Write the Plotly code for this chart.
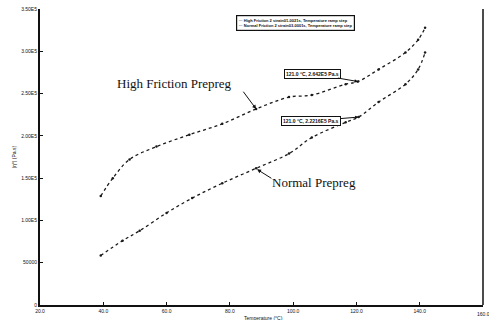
import plotly.graph_objects as go

# Data
temp_high = [39.2, 43.0, 48.3, 56.8, 67.2, 77.6, 88.3, 98.7, 105.9, 116.6, 120.5, 127.0, 135.5, 139.5, 141.7]
visc_high = [128800, 149900, 172100, 187300, 201400, 214200, 231800, 245800, 248200, 261100, 264200, 278600, 298500, 313700, 327800]

temp_norm = [39.2, 46.1, 51.5, 60.0, 68.1, 77.6, 88.3, 98.7, 105.9, 116.6, 120.7, 127.0, 135.5, 139.5, 141.7]
visc_norm = [58500, 76100, 87800, 108900, 126400, 144000, 161600, 179100, 198000, 216000, 222200, 240000, 261100, 278600, 298500]

x_ticks = [20, 40, 60, 80, 100, 120, 140]
x_tick_labels = ["20.0", "40.0", "60.0", "80.0", "100.0", "120.0", "140.0"]
last_x_tick = 160
last_x_label = "160.0"
y_ticks = [0, 50000, 100000, 150000, 200000, 250000, 300000, 350000]
y_tick_labels = ["0", "50000", "1.00E5", "1.50E5", "2.00E5", "2.50E5", "3.00E5", "3.50E5"]

series_names = [
    "High Friction 2 strain01-0021s, Temperature ramp step",
    "Normal Friction 2 strain03-0001s, Temperature ramp step",
]

ink = "#1a1a1a"
fig = go.Figure()
for tx, vy, nm in [(temp_high, visc_high, series_names[0]), (temp_norm, visc_norm, series_names[1])]:
    fig.add_trace(go.Scatter(
        x=tx, y=vy, name=nm, mode="lines+markers",
        line=dict(color=ink, width=1.3, dash="dot", shape="spline"),
        marker=dict(size=2.5, color=ink),
    ))

serif = "Liberation Serif, Times New Roman, serif"
# Callout texts
fig.add_annotation(x=62.5, y=262200, text="High Friction Prepreg", showarrow=False,
                   font=dict(family=serif, size=13, color="#111"))
fig.add_annotation(x=88.3, y=231800, ax=83.9, ay=254000, axref="x", ayref="y", text="",
                   showarrow=True, arrowhead=2, arrowsize=0.8, arrowwidth=1, arrowcolor="#111")
fig.add_annotation(x=106.5, y=145200, text="Normal Prepreg", showarrow=False,
                   font=dict(family=serif, size=13, color="#111"))
fig.add_annotation(x=88.6, y=160400, ax=93.6, ay=148700, axref="x", ayref="y", text="",
                   showarrow=True, arrowhead=2, arrowsize=0.8, arrowwidth=1, arrowcolor="#111")

fig.add_annotation(x=120.5, y=264200, ax=-46, ay=-8, text="<b>121.0 °C, 2.642E5 Pa.s</b>",
                   showarrow=True, arrowhead=2, arrowsize=0.7, arrowwidth=1, arrowcolor="#111",
                   font=dict(family="Arial", size=5, color="#111"),
                   bordercolor="#111", borderwidth=1, borderpad=1, bgcolor="white")
fig.add_annotation(x=120.7, y=222200, ax=-48, ay=4, text="<b>121.0 °C, 2.2216E5 Pa.s</b>",
                   showarrow=True, arrowhead=2, arrowsize=0.7, arrowwidth=1, arrowcolor="#111",
                   font=dict(family="Arial", size=5, color="#111"),
                   bordercolor="#111", borderwidth=1, borderpad=1, bgcolor="white")

# Legend drawn as a compact boxed text block
legend_text = "<br>".join("<b>··· " + n + "</b>" for n in series_names)
fig.add_annotation(xref="paper", yref="paper", x=0.442, y=0.98, xanchor="left", yanchor="top",
                   text=legend_text, showarrow=False, align="left",
                   font=dict(family="Arial", size=4.0, color="#111"),
                   bordercolor="#111", borderwidth=1.2, borderpad=1.5, bgcolor="white")

# Last x tick label (cut by the page edge as in the reference)
fig.add_annotation(x=last_x_tick, xref="x", yref="paper", y=-0.012, yanchor="top",
                   text=last_x_label, showarrow=False,
                   font=dict(family="Arial", size=5, color="#111"))

# Axis titles as annotations
fig.add_annotation(xref="paper", yref="paper", x=0.505, y=-0.028, yanchor="top",
                   text="Temperature (°C)", showarrow=False,
                   font=dict(family="Arial", size=5, color="#111"))
fig.add_annotation(xref="paper", yref="paper", x=-0.07, y=0.5, textangle=-90,
                   text="|η*| (Pa.s)", showarrow=False,
                   font=dict(family="Arial", size=5, color="#111"))

fig.update_layout(
    width=489, height=320,
    margin=dict(l=40, r=6, t=6, b=15),
    paper_bgcolor="white", plot_bgcolor="white",
    showlegend=False,
    font=dict(family="Arial", color="#111"),
    shapes=[dict(type="line", xref="paper", yref="paper", x0=1, x1=1, y0=0, y1=1,
                 line=dict(color="#111", width=1.5), layer="above")],
)
fig.update_xaxes(
    range=[20, 160], tickvals=x_ticks, ticktext=x_tick_labels,
    showgrid=False, zeroline=False, showline=True, linecolor="#111", linewidth=2,
    ticks="inside", ticklen=3, tickcolor="#111",
    tickfont=dict(family="Arial", size=5, color="#111"),
)
fig.update_yaxes(
    range=[0, 350000], tickvals=y_ticks, ticktext=y_tick_labels,
    showgrid=False, zeroline=False, showline=True, linecolor="#111", linewidth=2,
    ticks="inside", ticklen=3, tickcolor="#111",
    tickfont=dict(family="Arial", size=5, color="#111"),
)

fig.write_html("out.html", config={"displayModeBar": False},
               post_script="document.body.style.margin='0';document.body.style.overflow='hidden';")
